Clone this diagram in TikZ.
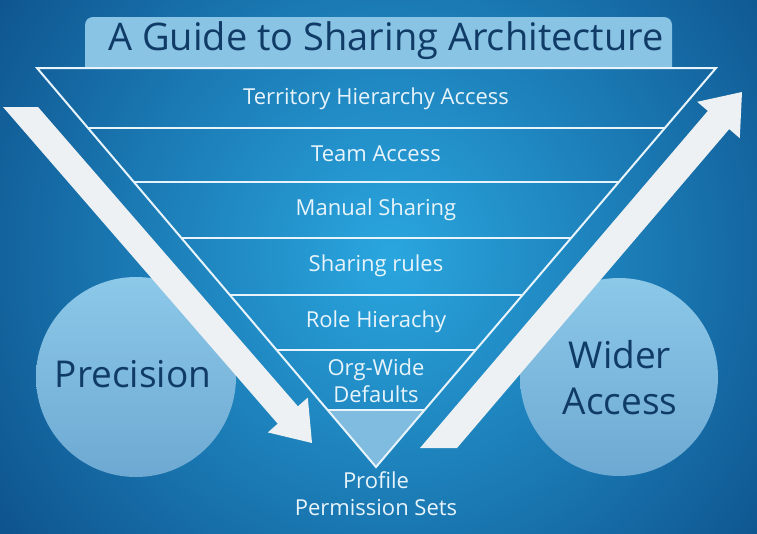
\documentclass[tikz,border=0pt]{standalone}
\usepackage{fontspec}
\setmainfont{Open Sans}
\definecolor{bgdark}{HTML}{08427D}
\definecolor{bglight}{HTML}{2AA6DF}
\definecolor{titlebox}{HTML}{8AC4E5}
\definecolor{navy}{HTML}{0F3B66}
\definecolor{circtop}{HTML}{8CC8E8}
\definecolor{circbot}{HTML}{6EA9D3}
\definecolor{tipfill}{HTML}{80BCE0}
\definecolor{arrowwhite}{HTML}{EEF1F3}
\definecolor{linewhite}{HTML}{E8F4FB}
\begin{document}
\begin{tikzpicture}[x=1pt,y=-1pt,
  rowtext/.style={text=linewhite, font=\fontsize{22}{27}\selectfont, align=center, inner sep=0pt},
  bigtext/.style={text=navy, font=\fontsize{37}{46}\selectfont, align=center, inner sep=0pt},
  titletext/.style={text=navy, font=\fontsize{38}{44}\selectfont, inner sep=0pt},
  edge/.style={draw=linewhite, line width=2pt},
  bigarrow/.style={fill=arrowwhite},
  bubble/.style={top color=circtop, bottom color=circbot},
]
\useasboundingbox (0,0) rectangle (757,533);
\begin{scope}
  \clip (0,0) rectangle (757,533);
  \fill[bgdark] (0,0) rectangle (757,533);
  \shade[inner color=bglight, outer color=bgdark] (390,255) circle (580);
\end{scope}

% title box
\fill[titlebox] (85,68) [rounded corners=8pt] -- (85,17) -- (672,17) [sharp corners] -- (672,68) -- cycle;
\node[titletext] (title) at (386,41) {A Guide to Sharing Architecture};

% circles
\shade[bubble] (136,377) circle (100);
\shade[bubble] (619,377) circle (99);
\node[bigtext] (precision) at (133,374) {Precision};
\node[bigtext] (wider) at (620,378) {Wider\\Access};

% inverted triangle
\coordinate (TL) at (37,68);
\coordinate (TR) at (716,68);
\coordinate (apex) at (376,467);
\coordinate (l1) at (88.0,128);  \coordinate (r1) at (664.9,128);
\coordinate (l2) at (133.9,182); \coordinate (r2) at (618.9,182);
\coordinate (l3) at (181.4,238); \coordinate (r3) at (571.1,238);
\coordinate (l4) at (229.9,295); \coordinate (r4) at (522.6,295);
\coordinate (l5) at (276.6,350); \coordinate (r5) at (475.7,350);
\coordinate (l6) at (327.6,410); \coordinate (r6) at (424.6,410);
\fill[tipfill] (l6) -- (r6) -- (apex) -- cycle;
\draw[edge, line join=miter] (TL) -- (TR) -- (apex) -- cycle;
\foreach \i in {1,...,6} { \draw[edge] (l\i) -- (r\i); }

\node[rowtext] (r1t) at (376,99) {Territory Hierarchy Access};
\node[rowtext] (r2t) at (376,154) {Team Access};
\node[rowtext] (r3t) at (376,210) {Manual Sharing};
\node[rowtext] (r4t) at (376,266) {Sharing rules};
\node[rowtext] (r5t) at (376,322) {Role Hierachy};
\node[rowtext] (r6t) at (376,381) {Org-Wide\\Defaults};
\node[rowtext] (r7t) at (376,494) {Profile\\Permission Sets};

% arrows
\fill[bigarrow] (3,107) -- (38,107) -- (297.9,406.3) -- (307.8,397.6) -- (312,443) -- (267.8,432.4) -- (277.7,423.7) -- cycle;
\fill[bigarrow] (420,448) -- (457,448) -- (729.2,129.1) -- (739.8,138.2) -- (742,92) -- (697.2,101.8) -- (707.8,110.9) -- cycle;
\end{tikzpicture}
\end{document}
